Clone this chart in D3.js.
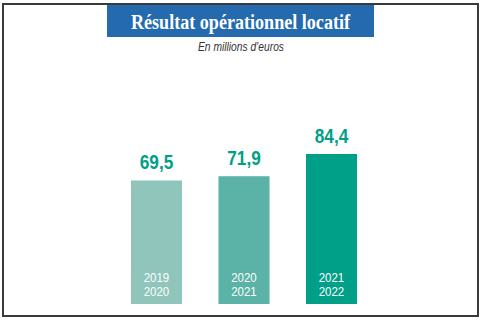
<!DOCTYPE html>
<html>
<head>
<meta charset="utf-8">
<script src="https://cdn.jsdelivr.net/npm/d3@7"></script>
<style>
  html, body { margin: 0; padding: 0; background: #fff; }
  svg { display: block; }
</style>
</head>
<body>
<svg id="chart" width="484" height="322"></svg>
<script>
// Rental operating result, in millions of euros
const periods = [["2019", "2020"], ["2020", "2021"], ["2021", "2022"]];
const values = [69.5, 71.9, 84.4];
const valueLabels = ["69,5", "71,9", "84,4"];
const barColors = ["#8fc5ba", "#5ab3a6", "#00a088"];

const svg = d3.select("#chart");
const sans = "'Liberation Sans', Arial, sans-serif";

// place a text at (px, py) squeezed horizontally to look like a condensed face
function placeCondensed(sel, px, py, k) {
  sel.attr("transform", (d, i) => {
    const X = typeof px === "function" ? px(d, i) : px;
    const Y = typeof py === "function" ? py(d, i) : py;
    return `translate(${X},${Y}) scale(${k},1)`;
  });
}

// outer frame
svg.append("rect")
  .attr("x", 3).attr("y", 4).attr("width", 475).attr("height", 312)
  .attr("fill", "#fff").attr("stroke", "#3a3a3a").attr("stroke-width", 2);

// title banner
svg.append("rect")
  .attr("x", 107).attr("y", 5).attr("width", 267).attr("height", 32)
  .attr("fill", "#236aaf");
svg.append("text")
  .attr("x", 240.5).attr("y", 29)
  .attr("text-anchor", "middle")
  .attr("fill", "#fff")
  .attr("font-family", "'Liberation Serif', 'DejaVu Serif', serif")
  .attr("font-weight", "bold")
  .attr("font-size", 20.5)
  .attr("textLength", 219)
  .attr("lengthAdjust", "spacingAndGlyphs")
  .text("Résultat opérationnel locatif");

const sub = svg.append("text")
  .attr("text-anchor", "middle")
  .attr("fill", "#333")
  .attr("font-family", sans)
  .attr("font-style", "italic")
  .attr("font-size", 12.5)
  .text("En millions d\u2019euros");
placeCondensed(sub, 241, 51, 0.82);

// scales
const x = d3.scaleBand()
  .domain(d3.range(values.length))
  .range([112.75, 375.25])
  .paddingInner(0.417)
  .paddingOuter(0.2085);

const y = d3.scaleLinear().domain([0, 84.4]).range([304, 154]);
const cx = i => x(i) + x.bandwidth() / 2;

const g = svg.append("g");

g.selectAll("rect.bar")
  .data(values)
  .join("rect")
  .attr("class", "bar")
  .attr("x", (d, i) => x(i))
  .attr("y", d => y(d))
  .attr("width", x.bandwidth())
  .attr("height", d => y(0) - y(d))
  .attr("fill", (d, i) => barColors[i]);

// value labels above bars
const vals = g.selectAll("text.val")
  .data(values)
  .join("text")
  .attr("class", "val")
  .attr("text-anchor", "middle")
  .attr("fill", "#00a088")
  .attr("font-family", sans)
  .attr("font-weight", "bold")
  .attr("font-size", 21)
  .text((d, i) => valueLabels[i]);
placeCondensed(vals, (d, i) => cx(i), d => y(d) - 11, 0.82);

// period labels inside bars, one text per line
const lines = periods.flatMap((p, i) => p.map((t, j) => ({ t, i, j })));
const per = g.selectAll("text.per")
  .data(lines)
  .join("text")
  .attr("class", "per")
  .attr("text-anchor", "middle")
  .attr("fill", "#fff")
  .attr("font-family", sans)
  .attr("font-size", 13.5)
  .text(d => d.t);
placeCondensed(per, d => cx(d.i), d => 282 + d.j * 14, 0.85);
</script>
</body>
</html>
